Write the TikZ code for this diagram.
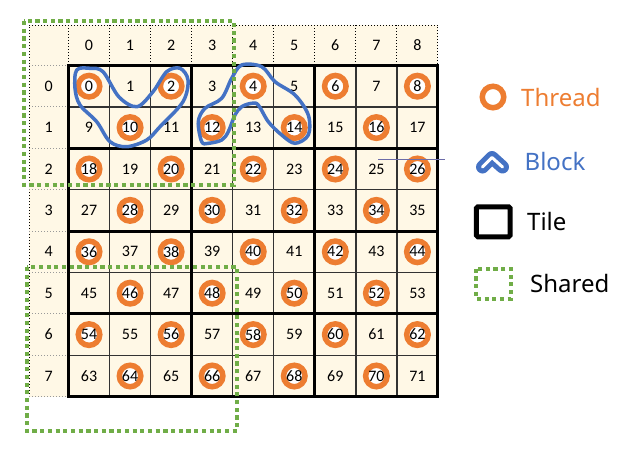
\documentclass[tikz,border=0pt]{standalone}
\usepackage{fontspec}
\setmainfont{Carlito}
\newfontfamily\legendfont{Noto Sans}
\definecolor{torange}{HTML}{ED7D31}
\definecolor{tblue}{HTML}{4472C4}
\definecolor{tgreen}{HTML}{70AD47}
\definecolor{cream}{HTML}{FFF8E6}
\definecolor{stray}{HTML}{6C6CA8}
\tikzset{
  num/.style={font=\fontsize{16}{16}\selectfont, inner sep=0pt},
  thread/.style={circle, draw=torange, line width=5.5pt, fill=white, minimum size=21.5pt, inner sep=0pt},
  thinline/.style={line width=1.3pt, draw=black!80},
  tileline/.style={line width=3pt, draw=black},
  hdot/.style={line width=1pt, dash pattern=on 1pt off 2pt, draw=black},
  hdotgray/.style={line width=1pt, dash pattern=on 1pt off 2pt, draw=black!40},
  blockline/.style={draw=tblue, line width=3.5pt, line join=round},
  shared/.style={draw=tgreen, line width=4pt, dash pattern=on 4.2pt off 3.5pt},
  legendtext/.style={font=\legendfont\fontsize{24}{24}\selectfont, anchor=west, inner sep=0pt},
}
\begin{document}
\begin{tikzpicture}[x=1pt,y=-1pt]
\useasboundingbox (0,0) rectangle (629,448);
% backgrounds
\fill[cream] (29,25) rectangle (437.95,396.7);
% header dotted lines
\draw[hdot] (29,396.7) -- (29,25) -- (437.95,25) -- (437.95,65.5);
\foreach \c in {0,...,8}
  \draw[hdot] (68.5+41.05*\c,25) -- (68.5+41.05*\c,65.5);
\foreach \r in {0,...,8}
  \draw[hdotgray] (29,65.5+41.4*\r) -- (68.5,65.5+41.4*\r);
% thin grid lines
\foreach \c in {1,2,4,5,7,8}
  \draw[thinline] (68.5+41.05*\c,65.5) -- (68.5+41.05*\c,396.7);
\foreach \r in {1,3,5,7}
  \draw[thinline] (68.5,65.5+41.4*\r) -- (437.95,65.5+41.4*\r);
% tile lines
\foreach \c in {0,3,6,9}
  \draw[tileline] (68.5+41.05*\c,65.5) -- (68.5+41.05*\c,396.7);
\foreach \r in {0,2,4,6,8}
  \draw[tileline] (67,65.5+41.4*\r) -- (439.45,65.5+41.4*\r);
% headers
\foreach \c in {0,...,8}
  \node[num] (hc\c) at (68.5+41.05*\c+20.5,45.3) {\c};
\foreach \r in {0,...,7}
  \node[num] (hr\r) at (48.8,65.5+41.4*\r+20.7) {\r};
% cells
\foreach \r in {0,...,7}{
  \foreach \c in {0,...,8}{
    \pgfmathtruncatemacro\n{\r*9+\c}
    \pgfmathsetmacro\px{68.5+41.05*(\c+0.5)}
    \pgfmathsetmacro\py{65.5+41.4*(\r+0.5)}
    \ifodd\n\relax
      \node[num] (c\n) at (\px,\py) {\n};
    \else
      \node[num,thread] (c\n) at (\px,\py) {\n};
    \fi
  }
}
% stray line
\coordinate (s1) at (378,159.3);
\coordinate (s2) at (445,159.3);
\draw[stray, line width=1pt] (s1) -- (s2);
% blocks
\draw[blockline] plot[smooth cycle, tension=0.55] coordinates {
  (76.7,70) (90,68.3) (103,71.7) (119,97) (137,106.7) (153,91.7) (166.7,71.7)
  (180,68.3) (188,80) (183,101.7) (160,126.7) (146.7,140) (126.7,146.7)
  (110,141.7) (96.7,121.7) (80,105) (75,88.3)};
\draw[blockline] plot[smooth cycle, tension=0.55] coordinates {
  (201.7,141.7) (198.3,121.7) (205,108.3) (221.7,98.3) (231.7,78.3) (241.7,65)
  (261.7,66.7) (275,81.7) (295,95) (308.3,115) (308.3,135) (295,143.3)
  (281.7,135) (268.3,121.7) (258.3,105) (251.7,103.3) (241.7,106.7) (235,115)
  (228.3,131.7) (221.7,140) (208.3,143.3)};
% shared regions
\draw[shared] (24,21) rectangle (233.5,185);
\draw[shared] (26.5,267) rectangle (237,430.5);
% legend
\node[thread] (lthread) at (493,97) {};
\node[legendtext, text=torange] (tthread) at (521,97) {Thread};
\draw[draw=tblue, line width=13pt, line cap=round, line join=round] (482.5,167) -- (492,157.5) -- (502.5,167);
\draw[draw=white, line width=3pt, line cap=round, line join=round] (482.5,167) -- (492,157.5) -- (502.5,167);
\node[legendtext, text=tblue] (tblock) at (524.5,161.5) {Block};
\node[draw=black, line width=5pt, rounded corners=1.5pt, minimum width=33.7pt, minimum height=30pt, inner sep=0pt] (ltile) at (493.3,221.8) {};
\node[legendtext] (ttile) at (527,221.8) {Tile};
\draw[shared] (476,268.7) rectangle (510.7,298.7);
\node[legendtext] (tshared) at (530,283.5) {Shared};
\end{tikzpicture}
\end{document}
